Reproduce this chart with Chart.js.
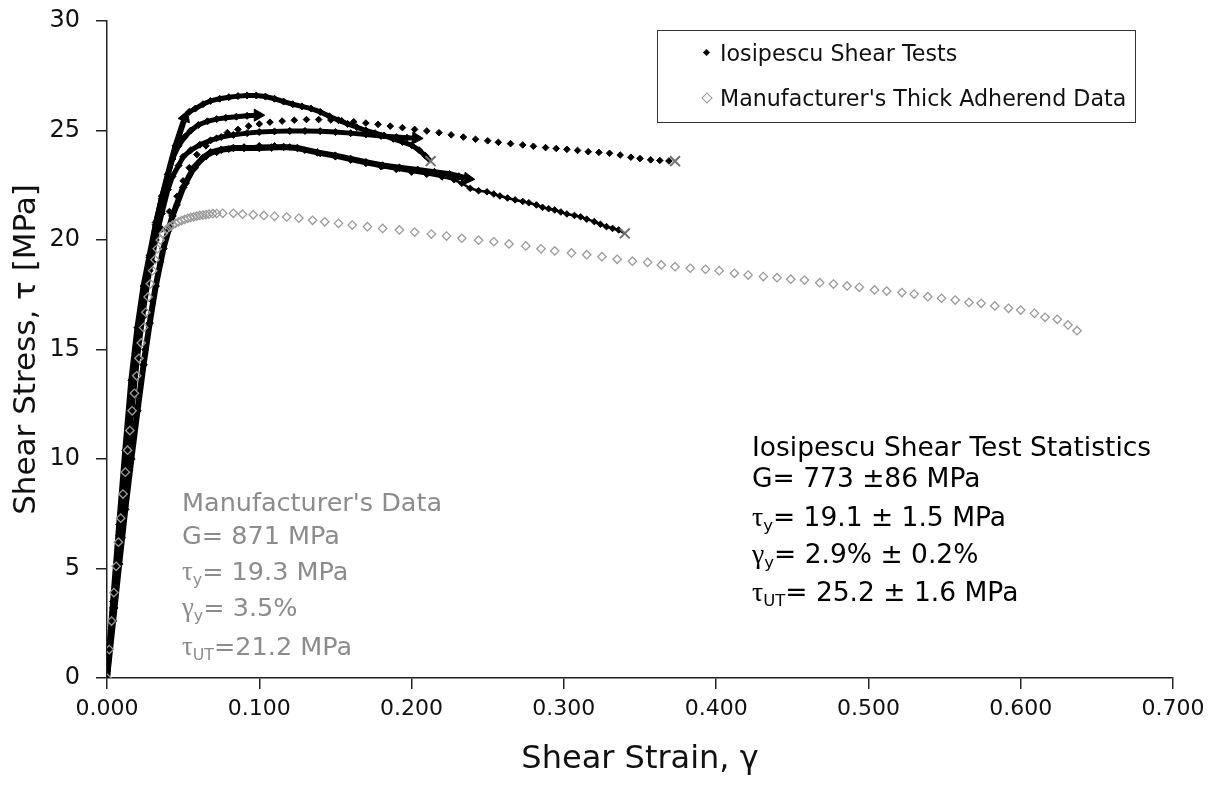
<!DOCTYPE html>
<html>
<head>
<meta charset="utf-8">
<script src="https://cdn.jsdelivr.net/npm/chart.js@4.4.1/dist/chart.umd.min.js"></script>
<style>
  body { margin: 0; background: #fff; }
  #wrap { position: relative; width: 1225px; height: 790px; font-family: "DejaVu Sans", Verdana, sans-serif; }
  .lbl { position: absolute; white-space: nowrap; line-height: 1; font-size: 26.5px; color: #000; }
  .gray { color: #8c8c8c; font-size: 25.5px; }
  .leg { font-size: 22.2px; color: #111; }
  .sym { font-family: "Liberation Serif", serif; font-size: 1.05em; }
  .sub { font-size: 0.62em; position: relative; top: 0.3em; }
  #legendBox { position: absolute; left: 657px; top: 30px; width: 477px; height: 91px; border: 1px solid #333; }
  .dia { position: absolute; width: 5px; height: 5px; background: #000; transform: rotate(45deg); }
  .dia.hollow { width: 6px; height: 6px; background: none; border: 1px solid #999; }
</style>
</head>
<body>
<div id="wrap">
  <canvas id="myChart" width="1225" height="790"></canvas>

  <div id="legendBox"></div>
  <span class="dia" style="left:704px;top:50px"></span>
  <div class="lbl leg" style="left:720px;top:42px">Iosipescu Shear Tests</div>
  <span class="dia hollow" style="left:703px;top:94px"></span>
  <div class="lbl leg" style="left:720px;top:87px">Manufacturer's Thick Adherend Data</div>

  <div class="lbl" style="left:752px;top:434px">Iosipescu Shear Test Statistics</div>
  <div class="lbl" style="left:752px;top:465px">G= 773 ±86 MPa</div>
  <div class="lbl" style="left:752px;top:503px"><span class="sym">τ</span><span class="sub">y</span>= 19.1 ± 1.5 MPa</div>
  <div class="lbl" style="left:752px;top:540px"><span class="sym">γ</span><span class="sub">y</span>= 2.9% ± 0.2%</div>
  <div class="lbl" style="left:752px;top:578px"><span class="sym">τ</span><span class="sub">UT</span>= 25.2 ± 1.6 MPa</div>

  <div class="lbl gray" style="left:182px;top:490px">Manufacturer's Data</div>
  <div class="lbl gray" style="left:182px;top:523px">G= 871 MPa</div>
  <div class="lbl gray" style="left:182px;top:558px"><span class="sym">τ</span><span class="sub">y</span>= 19.3 MPa</div>
  <div class="lbl gray" style="left:182px;top:594px"><span class="sym">γ</span><span class="sub">y</span>= 3.5%</div>
  <div class="lbl gray" style="left:182px;top:633px"><span class="sym">τ</span><span class="sub">UT</span>=21.2 MPa</div>
</div>

<script>
// Iosipescu test curves (strain, stress MPa)
var test1Strain = [0, 0.004, 0.008, 0.012, 0.016, 0.020, 0.024, 0.028, 0.032, 0.036, 0.040, 0.045, 0.0512];
var test1Stress = [0, 3.5, 7.0, 10.4, 13.6, 16.0, 17.9, 19.3, 20.7, 21.9, 23.0, 24.3, 25.6];

var test2Strain = [0.054, 0.058, 0.063, 0.068, 0.074, 0.080, 0.086, 0.092, 0.098, 0.104, 0.110, 0.116, 0.122, 0.128, 0.134, 0.140, 0.146, 0.152, 0.158, 0.164, 0.170, 0.176, 0.182, 0.188, 0.194, 0.200, 0.205, 0.209, 0.2125];
var test2Stress = [25.85, 26.0, 26.2, 26.35, 26.45, 26.52, 26.57, 26.6, 26.6, 26.55, 26.45, 26.32, 26.2, 26.1, 26.0, 25.85, 25.65, 25.47, 25.3, 25.15, 25.0, 24.88, 24.77, 24.62, 24.48, 24.33, 24.1, 23.85, 23.6];

var test3Strain = [0, 0.004, 0.008, 0.012, 0.016, 0.020, 0.024, 0.028, 0.032, 0.036, 0.040, 0.043, 0.047, 0.051, 0.055, 0.060, 0.066, 0.072, 0.078, 0.085, 0.092, 0.099];
var test3Stress = [0, 3.2, 6.5, 9.7, 12.7, 15.2, 17.3, 19.2, 20.8, 22.0, 23.0, 23.7, 24.3, 24.7, 25.0, 25.25, 25.42, 25.52, 25.58, 25.63, 25.67, 25.7];

var test4Strain = [0, 0.006, 0.012, 0.018, 0.024, 0.030, 0.036, 0.041, 0.046, 0.050, 0.054, 0.059, 0.065, 0.072, 0.079, 0.086, 0.093, 0.100, 0.107, 0.115, 0.123, 0.131, 0.139, 0.147, 0.154, 0.162, 0.170, 0.178, 0.186, 0.194, 0.202, 0.210, 0.218, 0.226, 0.234, 0.242, 0.250, 0.257, 0.265, 0.273, 0.280, 0.288, 0.295, 0.302, 0.309, 0.316, 0.323, 0.330, 0.337, 0.344, 0.350, 0.357, 0.363, 0.369, 0.373];
var test4Stress = [0, 4.4, 8.9, 13.0, 16.5, 19.0, 20.5, 21.3, 22.0, 22.7, 23.3, 23.9, 24.3, 24.65, 24.9, 25.05, 25.2, 25.3, 25.38, 25.43, 25.47, 25.5, 25.5, 25.48, 25.45, 25.4, 25.34, 25.28, 25.2, 25.13, 25.05, 24.98, 24.9, 24.8, 24.7, 24.6, 24.53, 24.46, 24.4, 24.34, 24.28, 24.22, 24.18, 24.14, 24.09, 24.03, 24.0, 23.96, 23.88, 23.78, 23.72, 23.66, 23.63, 23.61, 23.6];

var test5Strain = [0, 0.004, 0.008, 0.012, 0.016, 0.020, 0.024, 0.028, 0.032, 0.036, 0.040, 0.043, 0.047, 0.050, 0.055, 0.061, 0.068, 0.075, 0.083, 0.092, 0.100, 0.110, 0.120, 0.130, 0.140, 0.150, 0.160, 0.170, 0.180, 0.190, 0.197, 0.203];
var test5Stress = [0, 3.0, 6.1, 9.1, 12.0, 14.6, 16.8, 18.6, 20.0, 21.2, 22.3, 22.9, 23.4, 23.8, 24.1, 24.35, 24.55, 24.7, 24.8, 24.88, 24.93, 24.96, 24.98, 24.98, 24.97, 24.93, 24.88, 24.82, 24.75, 24.7, 24.67, 24.65];

var test6Strain = [0, 0.004, 0.008, 0.012, 0.016, 0.020, 0.024, 0.028, 0.032, 0.037, 0.043, 0.050, 0.057, 0.063, 0.068, 0.075, 0.083, 0.090, 0.100, 0.108, 0.116, 0.125, 0.138, 0.150, 0.160, 0.170, 0.181, 0.192, 0.204, 0.215, 0.225, 0.231, 0.237];
var test6Stress = [0, 2.6, 5.2, 7.7, 10.0, 12.2, 14.3, 16.2, 17.9, 19.6, 21.1, 22.4, 23.3, 23.75, 24.0, 24.12, 24.2, 24.2, 24.2, 24.22, 24.25, 24.2, 24.0, 23.85, 23.7, 23.55, 23.4, 23.3, 23.2, 23.1, 23.0, 22.9, 22.8];

var test7Strain = [0, 0.005, 0.010, 0.015, 0.020, 0.025, 0.030, 0.035, 0.040, 0.046, 0.052, 0.058, 0.065, 0.072, 0.080, 0.090, 0.100, 0.110, 0.120, 0.130, 0.140, 0.150, 0.160, 0.170, 0.180, 0.190, 0.200, 0.210, 0.220, 0.228, 0.233, 0.2385, 0.244, 0.2495, 0.254, 0.258, 0.263, 0.268, 0.273, 0.277, 0.282, 0.286, 0.290, 0.294, 0.298, 0.302, 0.307, 0.311, 0.315, 0.320, 0.324, 0.328, 0.332, 0.336, 0.340];
var test7Stress = [0, 3.2, 6.4, 9.5, 12.4, 15.0, 17.2, 19.0, 20.4, 21.6, 22.6, 23.3, 23.8, 24.0, 24.15, 24.25, 24.3, 24.3, 24.25, 24.1, 23.95, 23.8, 23.65, 23.5, 23.35, 23.22, 23.1, 23.0, 22.88, 22.75, 22.59, 22.36, 22.25, 22.2, 22.1, 22.01, 21.92, 21.83, 21.76, 21.7, 21.6, 21.49, 21.43, 21.37, 21.28, 21.19, 21.12, 21.06, 20.95, 20.84, 20.72, 20.61, 20.53, 20.46, 20.3];

// Manufacturer's thick adherend data
var mfrStrain = [0, 0.0015, 0.003, 0.0045, 0.006, 0.0075, 0.009, 0.0105, 0.012, 0.0135, 0.015, 0.0165, 0.018, 0.0195, 0.021, 0.0225, 0.024, 0.0255, 0.027, 0.0285, 0.030, 0.0315, 0.033, 0.035, 0.037, 0.039, 0.041, 0.043, 0.045, 0.047, 0.049, 0.051, 0.053, 0.055, 0.057, 0.059, 0.061, 0.063, 0.065, 0.067, 0.0695, 0.072,
  0.076, 0.083, 0.089, 0.096, 0.103, 0.110, 0.118, 0.126, 0.135, 0.143,
  0.152, 0.161, 0.171, 0.181, 0.192, 0.202, 0.213, 0.223, 0.233, 0.244, 0.254, 0.264, 0.275, 0.285, 0.294, 0.305, 0.315, 0.325, 0.335, 0.345,
  0.355, 0.364, 0.373, 0.383, 0.393, 0.402, 0.412, 0.421, 0.431, 0.440, 0.449, 0.458, 0.468, 0.477, 0.486, 0.494, 0.504, 0.512, 0.522, 0.530, 0.539, 0.548, 0.557, 0.566, 0.574, 0.583, 0.592, 0.600, 0.609, 0.616, 0.624, 0.631, 0.637];
var mfrStress = [0, 1.3, 2.6, 3.9, 5.1, 6.2, 7.3, 8.4, 9.4, 10.4, 11.3, 12.2, 13.0, 13.8, 14.6, 15.3, 16.0, 16.7, 17.4, 18.0, 18.6, 19.1, 19.6, 20.0, 20.3, 20.48, 20.6, 20.68, 20.76, 20.83, 20.89, 20.94, 20.99, 21.03, 21.06, 21.09, 21.12, 21.14, 21.16, 21.18, 21.2, 21.21,
  21.22, 21.22, 21.18, 21.15, 21.12, 21.08, 21.05, 21.0, 20.9, 20.83,
  20.76, 20.68, 20.61, 20.53, 20.46, 20.36, 20.27, 20.18, 20.08, 19.99, 19.92, 19.82, 19.73, 19.6, 19.5, 19.41, 19.33, 19.24, 19.12, 19.03,
  18.98, 18.86, 18.78, 18.71, 18.66, 18.6, 18.48, 18.4, 18.33, 18.28, 18.21, 18.17, 18.05, 17.99, 17.9, 17.84, 17.72, 17.67, 17.6, 17.53, 17.41, 17.34, 17.26, 17.15, 17.11, 16.99, 16.88, 16.8, 16.65, 16.47, 16.38, 16.12, 15.86];

var xTicks = [0, 0.1, 0.2, 0.3, 0.4, 0.5, 0.6, 0.7];
var yTicks = [0, 5, 10, 15, 20, 25, 30];

let toPoints = (xs, ys) => xs.map((x, i) => ({ x: x, y: ys[i] }));

// end: "arrow" | "x"
let testCurve = (xs, ys, end, rot, lineW, r) => {
    var last = xs.length - 1;
    var isEnd = (c) => c.dataIndex === last;
    return {
        label: "Iosipescu Shear Tests",
        data: toPoints(xs, ys),
        showLine: lineW > 0,
        borderColor: "#000",
        borderWidth: lineW,
        pointStyle: (c) => isEnd(c) ? (end === "x" ? "crossRot" : "triangle") : "rectRot",
        pointRadius: (c) => isEnd(c) ? 7 : r,
        pointRotation: (c) => isEnd(c) && end === "arrow" ? rot : 0,
        pointBackgroundColor: "#000",
        pointBorderColor: (c) => isEnd(c) && end === "x" ? "#707070" : "#000",
        pointBorderWidth: (c) => isEnd(c) && end === "x" ? 2 : 1,
        order: 2,
    };
};

var font = "'DejaVu Sans', Verdana, sans-serif";

var ctx = document.getElementById("myChart").getContext("2d");
var myChart = new Chart(ctx, {
    type: "scatter",
    data: {
        datasets: [
            {
                label: "Manufacturer's Thick Adherend Data",
                data: toPoints(mfrStrain, mfrStress),
                pointStyle: "rectRot",
                pointRadius: 4.2,
                pointBackgroundColor: "rgba(0,0,0,0)",
                pointBorderColor: "#9a9a9a",
                pointBorderWidth: 1.3,
                showLine: false,
                order: 1,
            },
            testCurve(test1Strain, test1Stress, "arrow", 20, 6, 3.5),
            testCurve(test2Strain, test2Stress, "x", 0, 5, 3.5),
            testCurve(test3Strain, test3Stress, "arrow", 90, 5, 3.5),
            testCurve(test4Strain, test4Stress, "x", 0, 0, 3.3),
            testCurve(test5Strain, test5Stress, "arrow", 92, 5, 3.5),
            testCurve(test6Strain, test6Stress, "arrow", 96, 6, 3.8),
            testCurve(test7Strain, test7Stress, "x", 0, 2.5, 3.3),
        ],
    },
    options: {
        responsive: false,
        animation: false,
        events: [],
        layout: { padding: { left: 0, top: 21, right: 52, bottom: 0 } },
        plugins: {
            legend: { display: false },
            tooltip: { enabled: false },
        },
        scales: {
            x: {
                type: "linear",
                min: 0,
                max: 0.7,
                afterBuildTicks: (s) => { s.ticks = xTicks.map((v) => ({ value: v })); },
                afterFit: (s) => { s.height = 112; },
                ticks: {
                    callback: (v) => v.toFixed(3),
                    font: { family: font, size: 22 },
                    color: "#111",
                    padding: 7,
                    maxRotation: 0,
                },
                grid: { drawOnChartArea: false, drawTicks: true, tickLength: 11, color: "#222", lineWidth: 1.5 },
                border: { display: true, color: "#222", width: 1.5 },
                title: {
                    display: true,
                    text: "Shear Strain, γ",
                    font: { family: font, size: 32 },
                    color: "#111",
                    padding: { top: 0, bottom: 11 },
                },
            },
            y: {
                type: "linear",
                min: 0,
                max: 30,
                afterBuildTicks: (s) => { s.ticks = yTicks.map((v) => ({ value: v })); },
                afterFit: (s) => {
                    s.width = 107;
                    s.paddingTop = 0;
                    s.paddingBottom = 0;
                },
                ticks: {
                    font: { family: font, size: 24 },
                    color: "#111",
                    padding: 16,
                },
                grid: { drawOnChartArea: false, drawTicks: true, tickLength: 11, color: "#222", lineWidth: 1.5 },
                border: { display: true, color: "#222", width: 1.5 },
                title: {
                    display: true,
                    text: "Shear Stress, τ [MPa]",
                    font: { family: font, size: 31 },
                    color: "#111",
                    padding: { top: 8, bottom: 0 },
                },
            },
        },
    },
});
</script>
</body>
</html>
